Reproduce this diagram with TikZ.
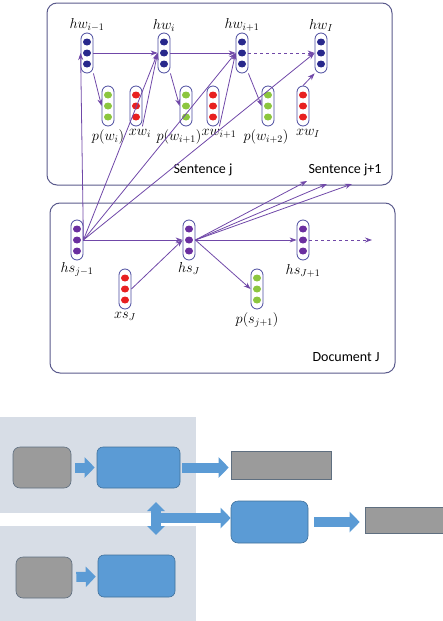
\documentclass[tikz,border=0pt]{standalone}
\usepackage{fontspec}
\newfontfamily\calib{Carlito}
\usetikzlibrary{arrows.meta,positioning}
\definecolor{frame}{HTML}{5A5A8C}
\definecolor{capline}{HTML}{4A4A9E}
\definecolor{arrowc}{HTML}{7048A8}
\definecolor{navy}{HTML}{28288C}
\definecolor{plum}{HTML}{6B2FA0}
\definecolor{dotred}{HTML}{E82020}
\definecolor{dotgreen}{HTML}{8CC63F}
\definecolor{panebg}{HTML}{D7DDE6}
\definecolor{blockc}{HTML}{5B9BD5}
\definecolor{blockedge}{HTML}{41719C}
\definecolor{grayc}{HTML}{9B9B9B}
\definecolor{grayedge}{HTML}{5F6F80}
\begin{document}
\begin{tikzpicture}[x=1pt, y=-1pt, every node/.style={font=\fontsize{14.4}{17}\selectfont},
  vec/.style={draw=capline, line width=0.8pt, rounded corners=6pt, minimum width=12pt, minimum height=40pt, inner sep=0pt},
  link/.style={draw=arrowc, line width=0.8pt, -{Stealth[length=7pt,width=5pt]}},
  tag/.style={inner sep=1pt},
  panel/.style={draw=frame, line width=1pt, rounded corners=10pt},
  bluebox/.style={draw=blockedge, fill=blockc, line width=0.6pt, rounded corners=6pt, inner sep=0pt},
  graybox/.style={draw=grayedge, fill=grayc, line width=0.6pt, inner sep=0pt},
  block/.style={draw=blockc, line width=10pt, -{Triangle[length=10pt,width=20pt]}}]
\useasboundingbox (0,0) rectangle (442,621);
% sentence and document frames
\draw[panel] (47,3) rectangle (392,185);
\draw[panel] (50,203) rectangle (395,373);
\node[font=\calib\fontsize{14}{16}\selectfont] (sentj) at (203,170) {Sentence j};
\node[font=\calib\fontsize{14}{16}\selectfont] (sentk) at (345,170) {Sentence j+1};
\node[font=\calib\fontsize{14}{16}\selectfont] (docj) at (346,357) {Document J};
% vectors
\foreach \n/\x/\y/\c in {hwa/87/53/navy, hwb/164/53/navy, hwc/242/53/navy, hwd/321/53/navy,
    pa/108/106/dotgreen, xa/136/106/dotred, pb/186/106/dotgreen, xb/213/106/dotred,
    pc/268/106/dotgreen, xc/303/106/dotred,
    hsa/77/240/plum, hsb/189/240/plum, hsc/303/240/plum, xs/125/289/dotred, ps/257/289/dotgreen} {
  \node[vec] (\n) at (\x,\y) {};
  \foreach \d in {-11,0,11} \fill[\c] (\x,\y+\d) ellipse (4pt and 3.5pt);
}
\node[tag, above=0pt of hwa] (lhwa) {$hw_{i-1}$};
\node[tag, above=0pt of hwb] (lhwb) {$hw_{i}$};
\node[tag, above=0pt of hwc] (lhwc) {$hw_{i+1}$};
\node[tag, above=0pt of hwd] (lhwd) {$hw_{I}$};
\node[tag, below=2pt of pa] (lpa) {$p(w_i)$};
\node[tag, below=2pt of xa, xshift=4pt] (lxa) {$xw_i$};
\node[tag, below=2pt of pb, xshift=-7pt] (lpb) {$p(w_{i+1})$};
\node[tag, below=2pt of xb, xshift=6pt] (lxb) {$xw_{i+1}$};
\node[tag, below=2pt of pc, xshift=-2pt] (lpc) {$p(w_{i+2})$};
\node[tag, below=2pt of xc, xshift=5pt] (lxc) {$xw_I$};
\node[tag, below=1pt of hsa] (lhsa) {$hs_{j-1}$};
\node[tag, below=1pt of hsb] (lhsb) {$hs_J$};
\node[tag, below=3pt of hsc] (lhsc) {$hs_{J+1}$};
\node[tag, below=2pt of xs] (lxs) {$xs_J$};
\node[tag, below=2pt of ps] (lps) {$p(s_{j+1})$};
% word level links
\draw[link] (hwa) -- (hwb);
\draw[link] (hwb) -- (hwc);
\draw[link, dashed] (hwc) -- (hwd);
\draw[link] (hwa.south east) -- (pa.west);
\draw[link] (hwb.south east) -- (pb.west);
\draw[link] (hwc.south east) -- (pc.west);
\draw[link] (xa.south east) -- (hwb.west);
\draw[link] (xb.south east) -- (hwc.west);
\draw[link] (xc.north) -- (hwd.south west);
% sentence context into words
\draw[link] (hsa.east) -- (hwa.west);
\foreach \t in {hwb,hwc,hwd} \draw[link] (hsa.east) -- (\t.west);
\coordinate (nxa) at (307,181);
\coordinate (nxb) at (327,184);
\coordinate (nxc) at (352,184);
\foreach \t in {nxa,nxb,nxc} \draw[link] (hsb.east) -- (\t);
% sentence level links
\draw[link] (hsa) -- (hsb);
\draw[link] (hsb) -- (hsc);
\draw[link] (xs.east) -- (hsb.west);
\draw[link] (hsb.east) -- (ps.west);
\coordinate (hsend) at (372,240);
\draw[link, dashed] (hsc) -- (hsend);
% lower diagram
\fill[panebg] (0,417) rectangle (196,513);
\fill[panebg] (0,526) rectangle (196,621);
\node[bluebox, rounded corners=7pt, fill=grayc, draw=grayedge, minimum width=58pt, minimum height=41pt] (ga) at (42,467.5) {};
\node[bluebox, minimum width=83pt, minimum height=41pt] (ba) at (138.5,467.5) {};
\node[graybox, minimum width=100pt, minimum height=28pt] (ra) at (281,465) {};
\node[bluebox, rounded corners=7pt, minimum width=77pt, minimum height=42pt] (bc) at (269.5,522) {};
\node[graybox, minimum width=80pt, minimum height=26pt] (rb) at (405,520) {};
\node[bluebox, rounded corners=7pt, fill=grayc, draw=grayedge, minimum width=56pt, minimum height=41pt] (gb) at (44,577.5) {};
\node[bluebox, minimum width=77pt, minimum height=42pt] (bb) at (136.5,576) {};
\draw[block, shorten <=4pt, shorten >=2pt] (ga) -- (ba);
\draw[block, shorten <=4pt, shorten >=2pt] (gb) -- (bb);
\draw[block, shorten <=2pt, shorten >=2pt] (ba.east) -- (ba.east -| ra.west);
\draw[block, shorten <=6pt, shorten >=5pt] (bc.east) -- (bc.east -| rb.west);
\coordinate (dtop) at (156,502);
\coordinate (dbot) at (156,535);
\coordinate (dmid) at (156,518);
\draw[block, {Triangle[length=9pt,width=17pt]}-{Triangle[length=9pt,width=17pt]}] (dtop) -- (dbot);
\draw[block] (dmid) -- (dmid -| bc.west);
\end{tikzpicture}
\end{document}
